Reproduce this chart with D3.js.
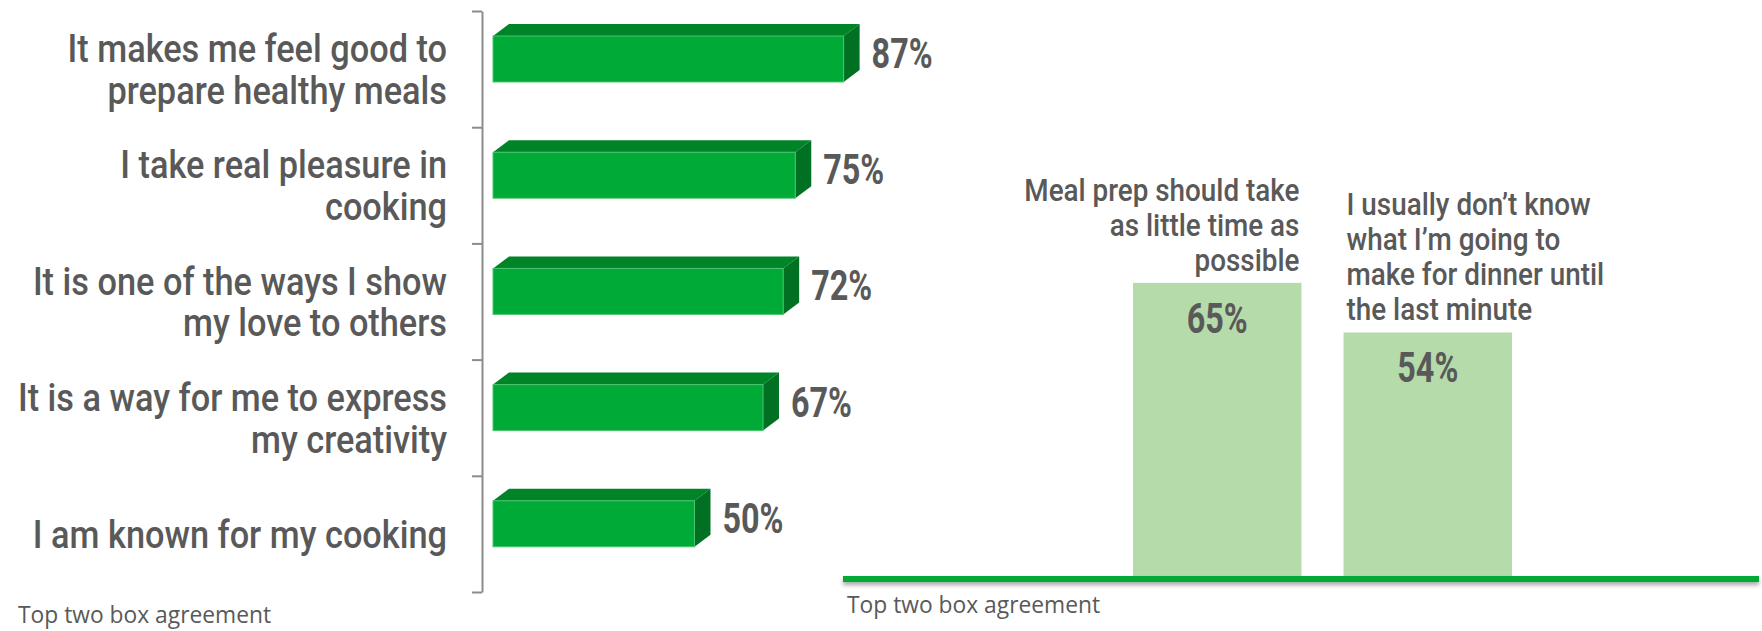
<!DOCTYPE html>
<html>
<head>
<meta charset="utf-8">
<script src="https://cdn.jsdelivr.net/npm/d3@7"></script>
<style>
  body { margin: 0; background: #fff; }
  svg { display: block; }
</style>
</head>
<body>
<div id="chart"></div>
<script>
// left chart: agreement statements
const statements = [
  "It makes me feel good to|prepare healthy meals",
  "I take real pleasure in|cooking",
  "It is one of the ways I show|my love to others",
  "It is a way for me to express|my creativity",
  "I am known for my cooking"
];
const statementValues = [87, 75, 72, 67, 50];

// right chart: attitudes
const attitudes = [
  "Meal prep should take|as little time as|possible",
  "I usually don\u2019t know|what I\u2019m going to|make for dinner until|the last minute"
];
const attitudeValues = [65, 54];

const noteText = "Top two box agreement";

const W = 1762, H = 631;
const textColor = "#595959";
const labelFont = "Roboto, 'Open Sans', sans-serif";

const svg = d3.select("#chart")
  .append("svg")
  .attr("width", W)
  .attr("height", H);

const defs = svg.append("defs");
const shadow = defs.append("filter").attr("id", "lineShadow")
  .attr("x", "-5%").attr("y", "-200%").attr("width", "110%").attr("height", "600%");
shadow.append("feDropShadow")
  .attr("dx", 0).attr("dy", 3).attr("stdDeviation", 2)
  .attr("flood-color", "#000").attr("flood-opacity", 0.35);

// text squeezed horizontally to mimic the condensed DIN face
function squeezed(parent, x, y, lines, o) {
  const g = parent.append("g")
    .attr("transform", `translate(${x},${y}) scale(${o.sx},1)`);
  const t = g.append("text")
    .attr("text-anchor", o.anchor)
    .style("font-family", labelFont)
    .style("font-size", o.size + "px")
    .style("font-weight", o.weight || 400)
    .style("fill", textColor);
  lines.forEach((ln, i) => {
    t.append("tspan").attr("x", 0).attr("y", i * o.lh).text(ln);
  });
  return g;
}

// ---------- left: 3D horizontal bars ----------
const y = d3.scaleBand().domain(statements).range([11, 592]);
const x = d3.scaleLinear().domain([0, 100]).range([493, 896]);
const tickPos = d3.scaleLinear().domain([0, statements.length]).range([11, 592]);

const depthX = 16, depthY = 12;
const faceTop = 25, faceH = 46;

svg.append("g")
  .attr("transform", "translate(482,0)")
  .call(d3.axisLeft(tickPos).tickValues(d3.range(statements.length + 1)).tickFormat("").tickSize(10).tickSizeOuter(0))
  .call(g => g.select(".domain").attr("stroke", "#8c8c8c").attr("stroke-width", 2))
  .call(g => g.selectAll(".tick line").attr("stroke", "#8c8c8c").attr("stroke-width", 2));

const bars = svg.selectAll(".hbar")
  .data(statements)
  .enter()
  .append("g")
  .attr("class", "hbar");

bars.each(function(d, i) {
  const g = d3.select(this);
  const x0 = x(0), x1 = x(statementValues[i]);
  const t = y(d) + faceTop, b = t + faceH;
  g.append("polygon")
    .attr("points", [[x0, t], [x0 + depthX, t - depthY], [x1 + depthX, t - depthY], [x1, t]].join(" "))
    .attr("fill", "#008428");
  g.append("polygon")
    .attr("points", [[x1, t], [x1 + depthX, t - depthY], [x1 + depthX, b - depthY], [x1, b]].join(" "))
    .attr("fill", "#007022");
  g.append("rect")
    .attr("x", x0).attr("y", t)
    .attr("width", x1 - x0).attr("height", faceH)
    .attr("fill", "#00aa36")
    .attr("stroke", "#4cc46f").attr("stroke-width", 1);

  // value label
  squeezed(g, x1 + depthX + 12, t - depthY / 2 + faceH / 2 + 15, [statementValues[i] + "%"],
    { sx: 0.77, size: 42, weight: 700, anchor: "start", lh: 0 });

  // category label
  const lines = d.split("|");
  const cy = y(d) + y.bandwidth() / 2;
  const lh = 42;
  squeezed(g, 447, cy + 14 - (lines.length - 1) * lh / 2, lines,
    { sx: 0.88, size: 39, weight: 500, anchor: "end", lh: lh });
});

svg.append("text")
  .attr("x", 18).attr("y", 623)
  .style("font-family", "'Open Sans', sans-serif")
  .style("font-size", "22.8px")
  .style("fill", textColor)
  .text(noteText);

// ---------- right: flat vertical bars ----------
const xb = d3.scaleBand().domain(attitudes).range([1133, 1512]).paddingInner(0.2);
const yv = d3.scaleLinear().domain([0, 100]).range([576, 125]);

svg.selectAll(".vbar")
  .data(attitudes)
  .enter()
  .append("rect")
  .attr("class", "vbar")
  .attr("x", d => xb(d))
  .attr("y", (d, i) => yv(attitudeValues[i]))
  .attr("width", xb.bandwidth())
  .attr("height", (d, i) => yv(0) - yv(attitudeValues[i]))
  .attr("fill", "#b5dbab");

svg.append("rect")
  .attr("x", 843).attr("width", 1759 - 843)
  .attr("y", yv(0)).attr("height", 6)
  .attr("fill", "#00ab36")
  .attr("filter", "url(#lineShadow)");

attitudes.forEach((d, i) => {
  const top = yv(attitudeValues[i]);
  squeezed(svg, xb(d) + xb.bandwidth() / 2, top + 50, [attitudeValues[i] + "%"],
    { sx: 0.77, size: 42, weight: 700, anchor: "middle", lh: 0 });

  const lines = d.split("|");
  const lh = 35;
  const first = top - 12 - (lines.length - 1) * lh;
  if (i === 0) {
    squeezed(svg, xb(d) + xb.bandwidth() - 2, first, lines,
      { sx: 0.87, size: 32, weight: 500, anchor: "end", lh: lh });
  } else {
    squeezed(svg, xb(d) + 3, first, lines,
      { sx: 0.87, size: 32, weight: 500, anchor: "start", lh: lh });
  }
});

svg.append("text")
  .attr("x", 847).attr("y", 613)
  .style("font-family", "'Open Sans', sans-serif")
  .style("font-size", "22.8px")
  .style("fill", textColor)
  .text(noteText);
</script>
</body>
</html>
